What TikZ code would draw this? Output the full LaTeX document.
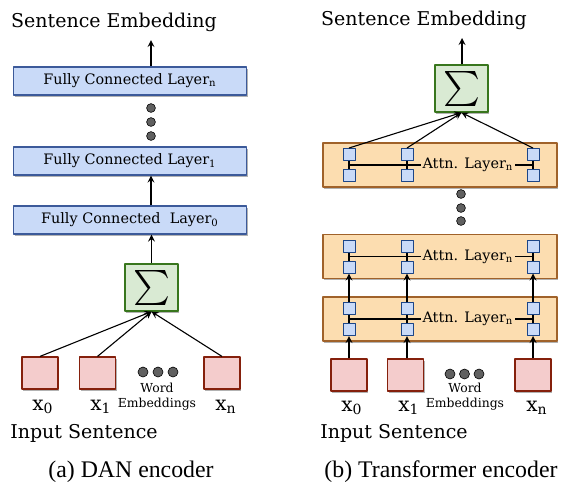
\documentclass[tikz,border=0pt]{standalone}
\usepackage{graphicx}
\usepackage{fontspec}
\setmainfont{DejaVu Serif}
\newfontfamily\capfont{Liberation Serif}
\usetikzlibrary{shadows}
\definecolor{fcfill}{HTML}{C9DAF8}
\definecolor{fcline}{HTML}{3C5A9A}
\definecolor{sumfill}{HTML}{D9EAD3}
\definecolor{sumline}{HTML}{38761D}
\definecolor{wordfill}{HTML}{F4CCCC}
\definecolor{wordline}{HTML}{85200C}
\definecolor{attfill}{HTML}{FCDDB0}
\definecolor{attline}{HTML}{A0622A}
\definecolor{sqline}{HTML}{1C4587}
\definecolor{dotfill}{HTML}{606060}
\begin{document}
\begin{tikzpicture}[x=0.5pt, y=-0.5pt, line join=round, >=stealth, line width=0.55pt,
	boxshadow/.style={drop shadow={shadow xshift=0.7pt, shadow yshift=-0.9pt, opacity=0.3, fill=black}},
	txt/.style={inner sep=0pt, font=\fontsize{9.5}{11}\selectfont},
	smalltxt/.style={inner sep=0pt, font=\fontsize{6.2}{7}\selectfont},
	xtxt/.style={inner sep=0pt, font=\fontsize{10}{11}\selectfont},
	captxt/.style={inner sep=0pt, font=\capfont\fontsize{11.9}{13}\selectfont},
	fcbox/.style={draw=fcline, fill=fcfill, line width=0.6pt, minimum width=116.5pt, minimum height=14pt, inner sep=0pt, font=\fontsize{7.2}{8}\selectfont, boxshadow},
	sumbox/.style={draw=sumline, fill=sumfill, line width=0.6pt, minimum width=26.5pt, minimum height=23.5pt, inner sep=0pt, boxshadow},
	wordbox/.style={draw=wordline, fill=wordfill, line width=0.6pt, minimum width=18pt, minimum height=16pt, inner sep=0pt, boxshadow},
	attbox/.style={draw=attline, fill=attfill, line width=0.6pt, minimum width=117pt, minimum height=22pt, inner sep=0pt, boxshadow},
	attlabel/.style={fill=attfill, inner xsep=1pt, inner ysep=0pt, font=\fontsize{7.2}{8}\selectfont},
	sq/.style={draw=sqline, fill=fcfill, line width=0.5pt, minimum size=6pt, inner sep=0pt},
	dot/.style={fill=dotfill, draw=black, line width=0.3pt}]
	\useasboundingbox (0,0) rectangle (562,484);
	%%%%%%%%%%%%%%%%%%%%%%%%%%%%%%%%%
	% (a) DAN encoder
	%%%%%%%%%%%%%%%%%%%%%%%%%%%%%%%%%
	\node[txt] (seL) at (114,22) {Sentence Embedding};
	\coordinate (outL) at (151,40);
	\node[fcbox] (fcn) at (130,81) {Fully Connected Layer\textsubscript{n}};
	\node[fcbox] (fc1) at (130,161) {Fully Connected Layer\textsubscript{1}};
	\node[fcbox] (fc0) at (130,220) {Fully Connected\ \ Layer\textsubscript{0}};
	\node[sumbox] (sumL) at (151.5,287.5) {\scalebox{1.75}{$\sum$}};
	\node[wordbox] (wL0) at (40,373) {};
	\node[wordbox] (wL1) at (97.5,373) {};
	\node[wordbox] (wLn) at (222,373) {};
	%%%%%%%%%%%%%%%%%%%%%%%%%%%%%%%%%
	\draw[->] (fcn.north -| outL) -- (outL);
	\draw[->] (fc0.north -| outL) -- (fc1.south -| outL);
	\draw[->] (sumL.north) -- (fc0.south -| sumL);
	\draw[->] (wL0.north) -- (sumL.south);
	\draw[->] (wL1.north) -- (sumL.south);
	\draw[->] (wLn.north) -- (sumL.south);
	%%%%%%%%%%%%%%%%%%%%%%%%%%%%%%%%%
	\filldraw[dot] (151,108) circle (2.2pt);
	\filldraw[dot] (151,122) circle (2.2pt);
	\filldraw[dot] (151,136) circle (2.2pt);
	\filldraw[dot] (143,372) circle (2.5pt);
	\filldraw[dot] (158,372) circle (2.5pt);
	\filldraw[dot] (173,372) circle (2.5pt);
	%%%%%%%%%%%%%%%%%%%%%%%%%%%%%%%%%
	\node[smalltxt] (wordL) at (157,388) {Word};
	\node[smalltxt] (embL) at (157,404) {Embeddings};
	\node[xtxt] (xL0) at (43,407) {x\textsubscript{0}};
	\node[xtxt] (xL1) at (101,407) {x\textsubscript{1}};
	\node[xtxt] (xLn) at (226,407) {x\textsubscript{n}};
	\node[txt] (isL) at (84,433) {Input Sentence};
	\node[captxt] (capL) at (131,472) {(a) DAN encoder};
	%%%%%%%%%%%%%%%%%%%%%%%%%%%%%%%%%
	% (b) Transformer encoder
	%%%%%%%%%%%%%%%%%%%%%%%%%%%%%%%%%
	\node[txt] (seR) at (424,20) {Sentence Embedding};
	\coordinate (outR) at (462,38);
	\node[sumbox] (sumR) at (461.5,88.5) {\scalebox{1.75}{$\sum$}};
	\node[attbox] (att3) at (440,165) {};
	\node[attbox] (att2) at (440,256.5) {};
	\node[attbox] (att1) at (440,319) {};
	\node[wordbox] (wR0) at (349,375) {};
	\node[wordbox] (wR1) at (405.5,375) {};
	\node[wordbox] (wRn) at (533,375) {};
	%%%%%%%%%%%%%%%%%%%%%%%%%%%%%%%%%
	% top attention layer
	\draw (349,154.5) -- (349,175.5);
	\draw (407,154.5) -- (407,175.5);
	\draw (533,154.5) -- (533,175.5);
	\draw (349,165) -- (533,165);
	\node[attlabel] (lab3) at (468,165) {Attn. Layer\textsubscript{n}};
	\node[sq] (t30) at (349,154.5) {};
	\node[sq] (t31) at (407,154.5) {};
	\node[sq] (t3n) at (533,154.5) {};
	\node[sq] (b30) at (349,175.5) {};
	\node[sq] (b31) at (407,175.5) {};
	\node[sq] (b3n) at (533,175.5) {};
	% middle attention layer
	\draw (349,246) -- (349,267);
	\draw (407,246) -- (407,267);
	\draw (533,246) -- (533,267);
	\draw (349,256.5) -- (533,256.5);
	\node[attlabel] (lab2) at (468,256.5) {Attn. Layer\textsubscript{n}};
	\node[sq] (t20) at (349,246) {};
	\node[sq] (t21) at (407,246) {};
	\node[sq] (t2n) at (533,246) {};
	\node[sq] (b20) at (349,267) {};
	\node[sq] (b21) at (407,267) {};
	\node[sq] (b2n) at (533,267) {};
	% bottom attention layer
	\draw (349,308.5) -- (349,329.5);
	\draw (407,308.5) -- (407,329.5);
	\draw (533,308.5) -- (533,329.5);
	\draw (349,319) -- (533,319);
	\node[attlabel] (lab1) at (468,319) {Attn. Layer\textsubscript{n}};
	\node[sq] (t10) at (349,308.5) {};
	\node[sq] (t11) at (407,308.5) {};
	\node[sq] (t1n) at (533,308.5) {};
	\node[sq] (b10) at (349,329.5) {};
	\node[sq] (b11) at (407,329.5) {};
	\node[sq] (b1n) at (533,329.5) {};
	%%%%%%%%%%%%%%%%%%%%%%%%%%%%%%%%%
	\draw[->] (sumR.north -| outR) -- (outR);
	\draw[->] (t30.north) -- (sumR.south);
	\draw[->] (t31.north) -- (sumR.south);
	\draw[->] (t3n.north) -- (sumR.south);
	\draw[->] (t10.north) -- (b20.south);
	\draw[->] (t11.north) -- (b21.south);
	\draw[->] (t1n.north) -- (b2n.south);
	\draw[->] (wR0.north) -- (b10.south);
	\draw[->] (wR1.north -| b11) -- (b11.south);
	\draw[->] (wRn.north) -- (b1n.south);
	%%%%%%%%%%%%%%%%%%%%%%%%%%%%%%%%%
	\filldraw[dot] (461,194) circle (2.2pt);
	\filldraw[dot] (461,208) circle (2.2pt);
	\filldraw[dot] (461,221) circle (2.2pt);
	\filldraw[dot] (450,374) circle (2.5pt);
	\filldraw[dot] (464.5,374) circle (2.5pt);
	\filldraw[dot] (479,374) circle (2.5pt);
	%%%%%%%%%%%%%%%%%%%%%%%%%%%%%%%%%
	\node[smalltxt] (wordR) at (465,388) {Word};
	\node[smalltxt] (embR) at (465,404) {Embeddings};
	\node[xtxt] (xR0) at (352,408) {x\textsubscript{0}};
	\node[xtxt] (xR1) at (409,408) {x\textsubscript{1}};
	\node[xtxt] (xRn) at (537,408) {x\textsubscript{n}};
	\node[txt] (isR) at (394,433) {Input Sentence};
	\node[captxt] (capR) at (441,472) {(b) Transformer encoder};
\end{tikzpicture}
\end{document}
